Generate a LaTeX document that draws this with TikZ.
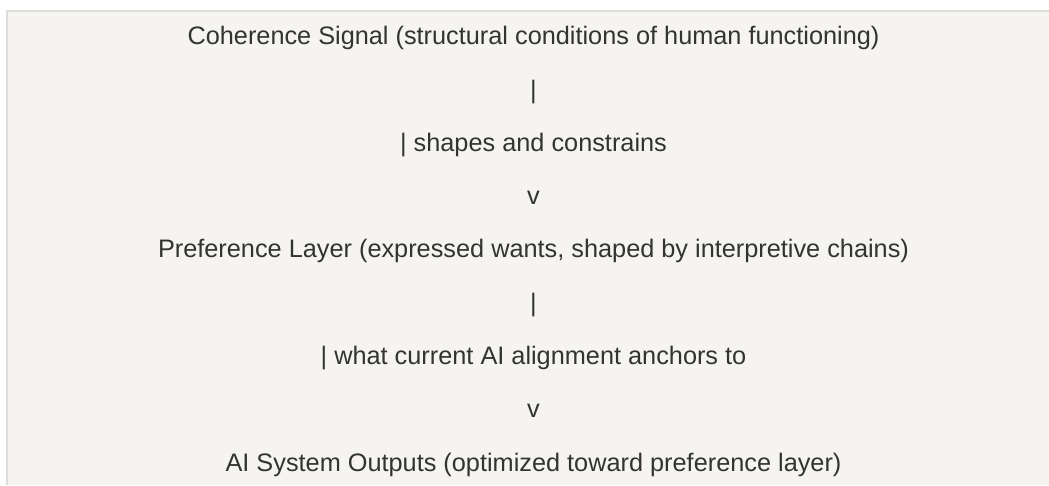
\documentclass[tikz,border=0pt]{standalone}
\usepackage{fontspec}
\setmainfont{Liberation Sans}
\definecolor{panelbg}{HTML}{F5F4F0}
\definecolor{bordergray}{HTML}{DDDDDA}
\definecolor{txt}{HTML}{333333}
\tikzset{
  line/.style={anchor=base, inner sep=0pt, text=txt, font=\fontsize{25.3}{30}\selectfont}
}
\begin{document}
\begin{tikzpicture}[x=1pt,y=1pt]
\useasboundingbox (0,0) rectangle (1049,485);
\fill[white] (0,0) rectangle (1049,485);
\fill[panelbg] (7,0) rectangle (1049,474);
\draw[bordergray, line width=1.5pt] (6,474) -- (1049,474);
\draw[bordergray, line width=2pt] (7,0) -- (7,474.5);
\node[line] (l1) at (533.5,440) {Coherence Signal (structural conditions of human functioning)};
\node[line] (l2) at (533.5,386.75) {|};
\node[line] (l3) at (533.5,333.5) {| shapes and constrains};
\node[line] (l4) at (533.5,280.25) {v};
\node[line] (l5) at (533.5,227) {Preference Layer (expressed wants, shaped by interpretive chains)};
\node[line] (l6) at (533.5,173.75) {|};
\node[line] (l7) at (533.5,120.5) {| what current AI alignment anchors to};
\node[line] (l8) at (533.5,67.25) {v};
\node[line] (l9) at (533.5,14) {AI System Outputs (optimized toward preference layer)};
\end{tikzpicture}
\end{document}
